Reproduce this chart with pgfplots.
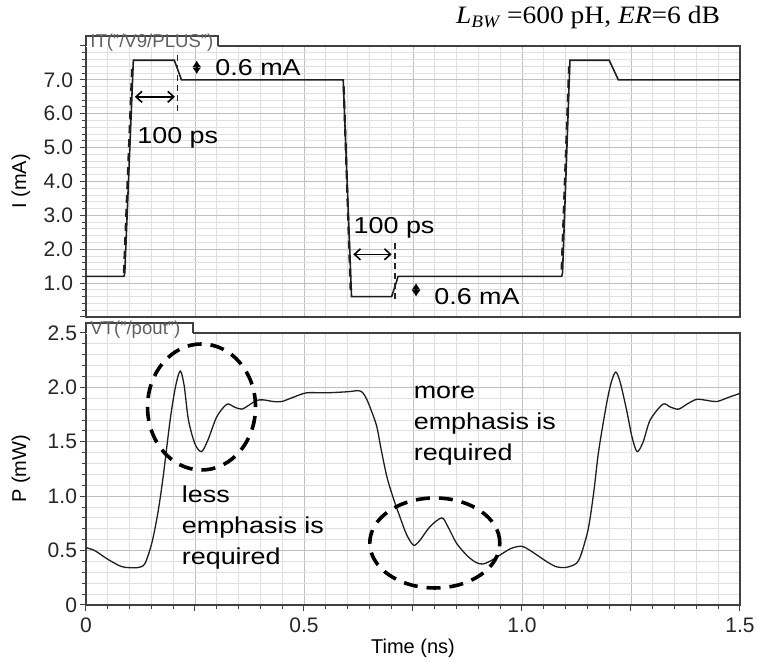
\documentclass[border=0pt]{standalone}
\usepackage{fontspec}
\setmainfont{Liberation Sans}
\newfontfamily\annfont{Liberation Sans}[FakeStretch=1.17]
\newfontfamily\titlefont{Liberation Serif}[FakeStretch=1.1]
\usepackage{pgfplots}
\pgfplotsset{compat=1.18}
\usetikzlibrary{arrows.meta}
\definecolor{curve}{HTML}{1E1E1E}
\pgfplotsset{
  mybase/.style={
    scale only axis, width=327pt, xmin=0, xmax=1.5,
    axis line style={black!75, line width=0.6pt},
    tick align=outside, tick pos=left,
    grid=both,
    major grid style={black!25, line width=0.45pt},
    minor grid style={black!12, line width=0.45pt},
    major tick length=3pt, minor tick length=2pt,
    tick style={black!75, line width=0.5pt},
    ticklabel style={font=\fontsize{10.5}{12}\selectfont, text=black!85},
    /pgf/number format/assume math mode=true,
    xtick={0,0.25,...,1.5}, minor x tick num=4,
    clip=false,
    label style={font=\fontsize{10.5}{12}\selectfont, text=black!85},
    every axis y label/.style={at={(axis description cs:-0.0994,0.5)}, rotate=90, anchor=center},
  },
}
\tikzset{
  ann/.style={font=\annfont\fontsize{11.5}{15.5}\selectfont, text=black, inner sep=0pt},
  dimarrow/.style={line width=0.8pt, black, {Straight Barb[length=3pt,width=5.5pt]}-{Straight Barb[length=3pt,width=5.5pt]}},
  diam/.style={line width=0.8pt, black, {Latex[length=3.3pt,width=4.6pt]}-{Latex[length=3.3pt,width=4.6pt]}},
  vdash/.style={line width=0.8pt, black!85, dash pattern=on 3pt off 2pt},
  ell/.style={line width=1.8pt, black, dash pattern=on 7pt off 4.5pt},
}
\begin{document}
\begin{tikzpicture}
\useasboundingbox (0,0) rectangle (378.5pt,331pt);
% ---------------- top panel ----------------
\begin{axis}[mybase,
  at={(43pt,172.5pt)}, anchor=south west, height=135.5pt,
  ymin=0, ymax=8,
  ytick={0,1,...,8}, yticklabels={,1.0,2.0,3.0,4.0,5.0,6.0,7.0,},
  minor y tick num=4,
  xticklabels={}, xtick style={draw=none},
  ylabel={I (mA)},
]
\addplot[curve, line width=0.8pt] coordinates {
  (0,1.2) (0.087,1.2) (0.089,1.3) (0.1086,7.58) (0.2026,7.58) (0.219,7.0)
  (0.590,7.0) (0.609,0.6) (0.701,0.6) (0.716,1.2)
  (1.091,1.2) (1.093,1.3) (1.110,7.58) (1.200,7.58) (1.221,7.0) (1.5,7.0)
};
\addplot[curve, line width=1.1pt, dash pattern=on 4pt off 3pt] coordinates {(0.087,1.3) (0.106,7.4)};
\addplot[curve, line width=1.1pt, dash pattern=on 4pt off 3pt] coordinates {(0.591,6.8) (0.607,0.8)};
\addplot[curve, line width=1.1pt, dash pattern=on 4pt off 3pt] coordinates {(1.091,1.4) (1.108,7.4)};
% tab
\fill[white] ([yshift=-0.4pt]rel axis cs:0,1) rectangle ++(66pt,5.4pt);
\draw[black!75, line width=0.6pt] (rel axis cs:0,1) -- ++(0,5pt) -- ++(66pt,0) -- ++(0,-5pt);
\node[anchor=west, font=\fontsize{9.3}{10}\selectfont, text=black!62, inner sep=0pt] at ([xshift=2pt,yshift=1.5pt]rel axis cs:0,1) {IT("/V9/PLUS")};
% annotations
\draw[dimarrow] (axis cs:0.112,6.5) -- (axis cs:0.204,6.5);
\draw[vdash] (axis cs:0.210,7.73) -- (axis cs:0.210,6.06);
\node[ann, anchor=west] at (axis cs:0.117,5.3) {100 ps};
\draw[diam] (axis cs:0.254,7.17) -- (axis cs:0.254,7.57);
\node[ann, anchor=west] at (axis cs:0.296,7.37) {0.6 mA};
\node[ann, anchor=west] at (axis cs:0.613,2.63) {100 ps};
\draw[dimarrow] (axis cs:0.613,1.85) -- (axis cs:0.701,1.85);
\draw[vdash] (axis cs:0.709,2.17) -- (axis cs:0.709,0.5);
\draw[diam] (axis cs:0.757,0.60) -- (axis cs:0.757,1.00);
\node[ann, anchor=west] at (axis cs:0.798,0.60) {0.6 mA};
\end{axis}
% ---------------- bottom panel ----------------
\begin{axis}[mybase,
  at={(43pt,28.5pt)}, anchor=south west, height=136pt,
  ymin=0, ymax=2.5,
  ytick={0,0.5,...,2.5}, yticklabels={0,0.5,1.0,1.5,2.0,2.5},
  minor y tick num=4,
  yticklabel style={xshift=2pt},
  xticklabels={0,,0.5,,1.0,,1.5},
  xlabel={Time (ns)},
  every axis x label/.style={at={(axis description cs:0.5,0)}, anchor=center, yshift=-21.5pt},
  ylabel={P (mW)},
]
\addplot[curve, line width=0.65pt, smooth, tension=0.5] coordinates {
(0,0.527) (0.02,0.50) (0.05,0.42) (0.08,0.355) (0.10,0.343) (0.12,0.345)
(0.135,0.38) (0.151,0.57) (0.165,0.85) (0.177,1.18) (0.193,1.70) (0.205,2.0)
(0.216,2.15) (0.225,2.02) (0.235,1.70) (0.25,1.48) (0.265,1.41) (0.28,1.52)
(0.30,1.73) (0.323,1.845) (0.34,1.82) (0.357,1.80) (0.375,1.84) (0.391,1.88)
(0.407,1.885) (0.43,1.87) (0.449,1.87) (0.476,1.91) (0.506,1.95) (0.55,1.95)
(0.60,1.96) (0.625,1.97) (0.635,1.95) (0.644,1.89) (0.655,1.78) (0.667,1.64)
(0.676,1.45) (0.690,1.18) (0.705,0.98) (0.72,0.81) (0.735,0.65) (0.751,0.55)
(0.765,0.59) (0.789,0.72) (0.816,0.80) (0.83,0.72) (0.85,0.567) (0.875,0.45)
(0.895,0.39) (0.911,0.377) (0.93,0.41) (0.95,0.46) (0.975,0.52) (0.999,0.54)
(1.015,0.51) (1.034,0.46) (1.06,0.39) (1.08,0.35) (1.10,0.345) (1.12,0.37)
(1.13,0.41) (1.14,0.52) (1.153,0.72) (1.165,1.05) (1.176,1.42) (1.194,1.85)
(1.205,2.05) (1.215,2.14) (1.225,2.05) (1.24,1.79) (1.252,1.55) (1.264,1.41)
(1.278,1.50) (1.294,1.70) (1.323,1.845) (1.34,1.82) (1.359,1.80) (1.38,1.85)
(1.401,1.89) (1.425,1.88) (1.447,1.87) (1.475,1.91) (1.5,1.945)
};
% tab
\fill[white] ([yshift=-0.4pt]rel axis cs:0,1) rectangle ++(53.5pt,5.4pt);
\draw[black!75, line width=0.6pt] (rel axis cs:0,1) -- ++(0,5pt) -- ++(53.5pt,0) -- ++(0,-5pt);
\node[anchor=west, font=\fontsize{9.3}{10}\selectfont, text=black!62, inner sep=0pt] at ([xshift=2pt,yshift=1.5pt]rel axis cs:0,1) {VT("/pout")};
% annotations
\draw[ell] (axis cs:0.265,1.82) ellipse [x radius=27pt, y radius=31.5pt];
\draw[ell] (axis cs:0.80,0.57) ellipse [x radius=32.5pt, y radius=22.5pt];
\node[ann, anchor=west, align=left] at (axis cs:0.219,0.71) {less\\emphasis is\\required};
\node[ann, anchor=west, align=left] at (axis cs:0.751,1.65) {more\\emphasis is\\required};
\end{axis}
\node[font=\titlefont\fontsize{12.5}{14}\selectfont, text=black] at (294pt,322pt)
  {{\itshape L}\textsubscript{\itshape BW} =600 pH, {\itshape ER}=6 dB};
\end{tikzpicture}
\end{document}
